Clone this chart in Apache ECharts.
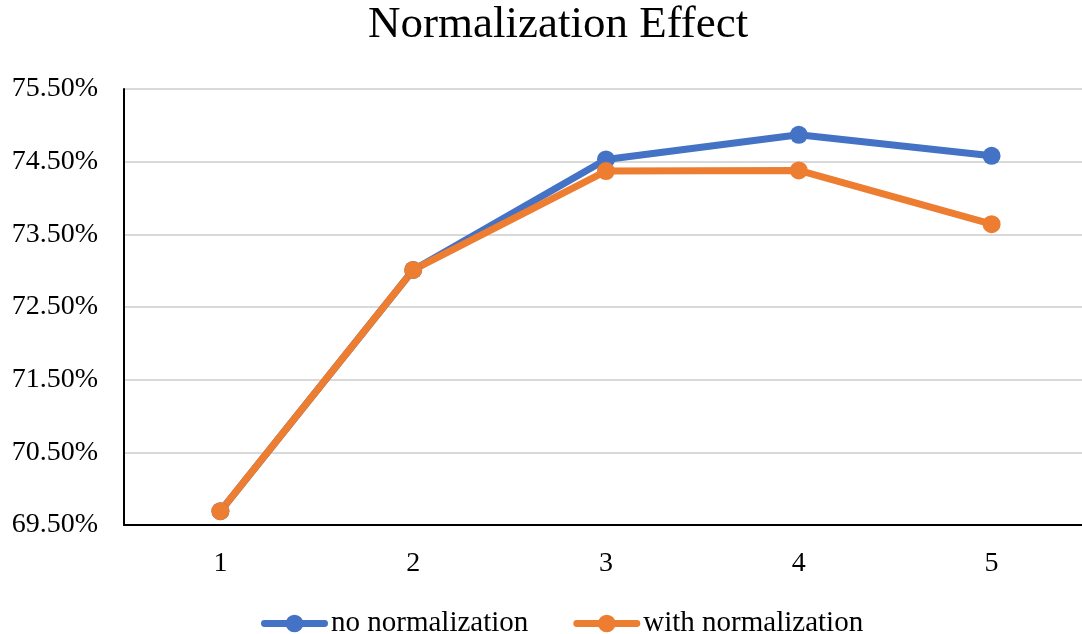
<!DOCTYPE html>
<html>
<head>
<meta charset="utf-8">
<script src="https://cdn.jsdelivr.net/npm/echarts@6/dist/echarts.min.js"></script>
<style>
  html, body { margin: 0; padding: 0; background: #ffffff; }
  #chart { width: 1082px; height: 634px; }
</style>
</head>
<body>
<div id="chart"></div>
<script>
// Accuracy (%) by setting, with and without normalization
const categories = ['1', '2', '3', '4', '5'];
const noNormalization = [69.69, 73.01, 74.53, 74.87, 74.58];
const withNormalization = [69.69, 73.01, 74.37, 74.38, 73.64];
const seriesNames = ['no normalization', 'with normalization'];

const FONT = '"Liberation Serif", "Times New Roman", serif';
// Legend marker: thick rounded line with a filled dot in the middle (same winding so both fill)
const LEGEND_ICON = 'path://M3,5.5 L64,5.5 A3.5,3.5 0 0,1 64,12.5 L3,12.5 A3.5,3.5 0 0,1 3,5.5 Z ' +
  'M24.5,9 A9,9 0 1,1 42.5,9 A9,9 0 1,1 24.5,9 Z';

const chart = echarts.init(document.getElementById('chart'), null, { renderer: 'canvas' });

chart.setOption({
  backgroundColor: '#ffffff',
  animation: false,
  title: {
    text: 'Normalization Effect',
    left: 363,
    top: -2,
    textStyle: { fontFamily: FONT, fontSize: 45, fontWeight: 'normal', color: '#000000' }
  },
  legend: {
    top: 604,
    left: 256,
    icon: LEGEND_ICON,
    itemWidth: 67,
    itemHeight: 18,
    itemGap: 45,
    textStyle: { fontFamily: FONT, fontSize: 29, color: '#000000', padding: [0, 0, 0, -2] },
    data: seriesNames
  },
  grid: { left: 124, width: 964, top: 89, bottom: 109, containLabel: false, outerBoundsMode: 'none' },
  xAxis: {
    type: 'category',
    data: categories,
    boundaryGap: true,
    axisLine: { lineStyle: { color: '#000000', width: 2 } },
    axisTick: { show: false },
    axisLabel: { fontFamily: FONT, fontSize: 28, color: '#000000', margin: 25 }
  },
  yAxis: {
    type: 'value',
    min: 69.5,
    max: 75.5,
    interval: 1,
    axisLine: { show: true, lineStyle: { color: '#000000', width: 2 } },
    axisTick: { show: false },
    splitLine: { lineStyle: { color: '#d9d9d9', width: 2 } },
    axisLabel: {
      fontFamily: FONT, fontSize: 28, color: '#000000', margin: 26,
      formatter: v => v.toFixed(2) + '%'
    }
  },
  series: [
    {
      name: seriesNames[0],
      type: 'line',
      data: noNormalization,
      color: '#4472c4',
      symbol: 'circle',
      symbolSize: 18,
      lineStyle: { width: 7, color: '#4472c4' },
      itemStyle: { color: '#4472c4' }
    },
    {
      name: seriesNames[1],
      type: 'line',
      data: withNormalization,
      color: '#ed7d31',
      symbol: 'circle',
      symbolSize: 18,
      lineStyle: { width: 7, color: '#ed7d31' },
      itemStyle: { color: '#ed7d31' }
    }
  ]
});
</script>
</body>
</html>
